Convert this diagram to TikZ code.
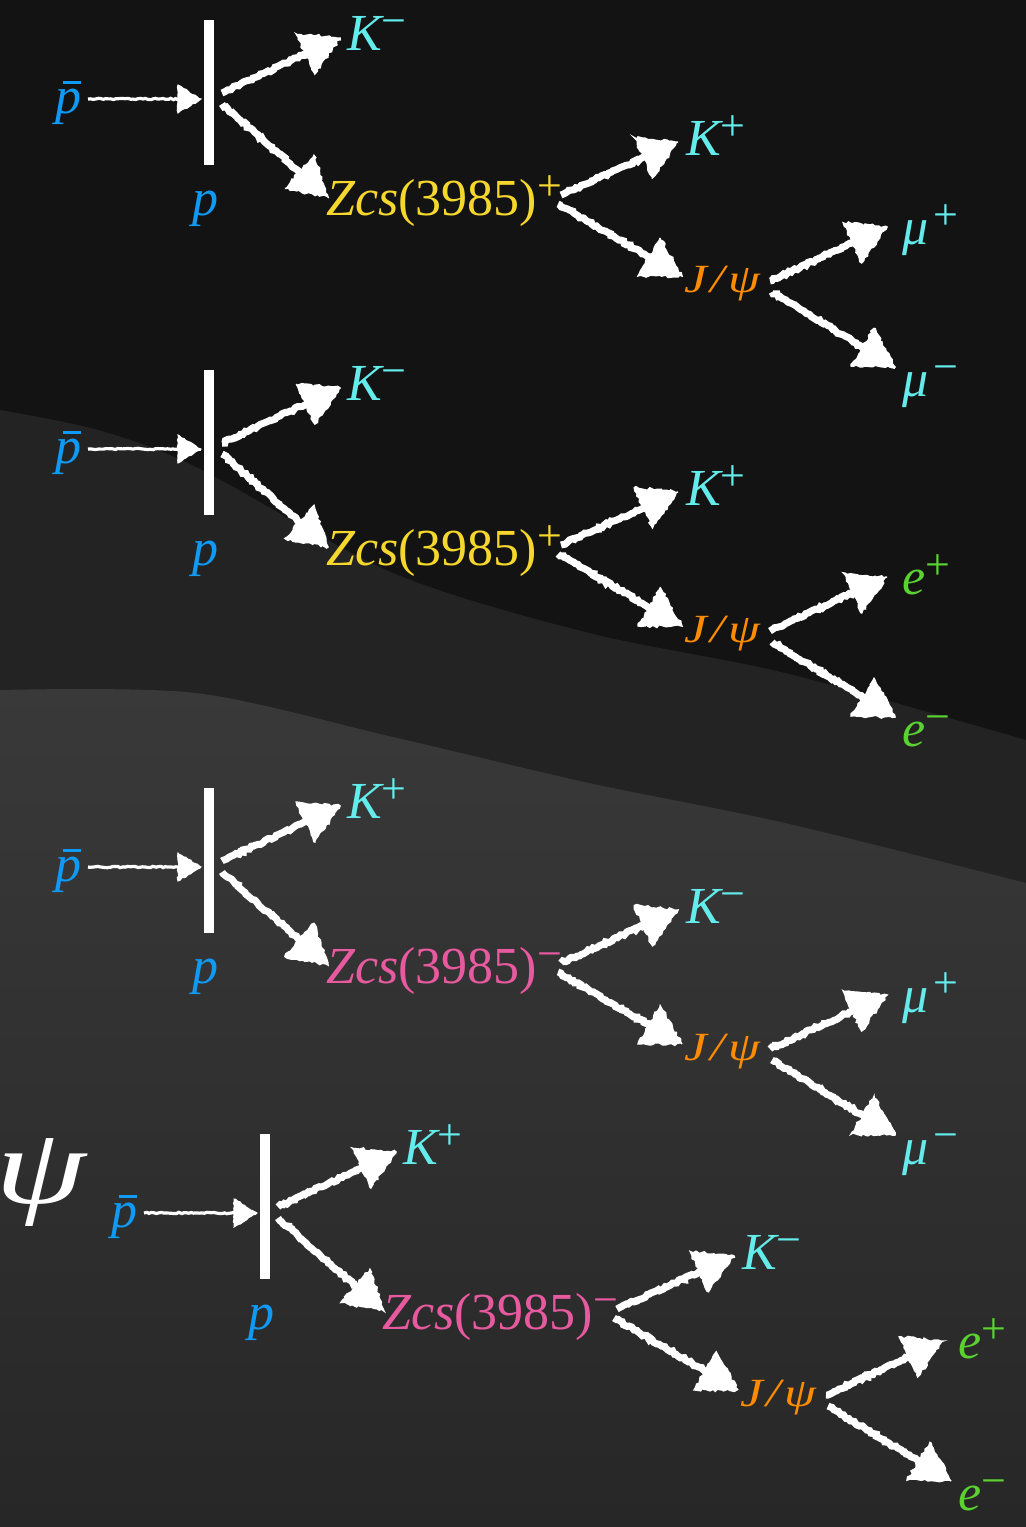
\documentclass[tikz,border=0pt]{standalone}
\usepackage{fontspec}
\setmainfont{Liberation Serif}
\usepackage{graphicx}
\usetikzlibrary{arrows.meta,decorations.pathmorphing,calc}
\definecolor{bgA}{HTML}{131313}
\definecolor{bgB}{HTML}{232323}
\definecolor{bgCtop}{HTML}{393939}
\definecolor{bgCbot}{HTML}{272727}
\definecolor{pblue}{RGB}{15,155,245}
\definecolor{kcyan}{RGB}{100,235,235}
\definecolor{zyellow}{RGB}{245,215,45}
\definecolor{zpink}{RGB}{232,90,160}
\definecolor{jorange}{RGB}{255,140,0}
\definecolor{egreen}{RGB}{90,210,50}
\newcommand\chg[1]{\raisebox{15pt}{\fontsize{44}{44}\selectfont\upshape #1}}
\newcommand\pbarsym{\makebox[0pt][l]{\kern8pt\raisebox{29pt}{\rule{18pt}{3pt}}}{\itshape p}}
\newcommand\jpsisym{{\fontsize{40}{40}\selectfont\itshape\scalebox{1.28}[1]{J\kern3pt/\kern3ptψ}}}
\tikzset{
  lbl/.style={anchor=base west, inner sep=0pt, font=\fontsize{52}{52}\selectfont},
  barbox/.style={fill=white, draw=none, minimum width=10pt, minimum height=145pt, inner sep=0pt},
  chalk/.style={draw=white, line width=7pt, decorate, decoration={random steps, segment length=2.5pt, amplitude=1.2pt}},
  chalkhead/.style={fill=white, draw=white, line width=1.5pt, decorate, decoration={random steps, segment length=3pt, amplitude=1.4pt}},
  thinchalk/.style={draw=white, line width=3.2pt, decorate, decoration={random steps, segment length=2.5pt, amplitude=0.7pt}},
  thinchalkhead/.style={fill=white, draw=white, line width=1pt, decorate, decoration={random steps, segment length=2.5pt, amplitude=0.8pt}},
}
% #1 start, #2 tip, #3 head length, #4 half width, #5 shaft style
\newcommand\headarrow[5]{%
  \draw[#5] (#1) -- ($(#2)!#3-6pt!(#1)$);
  \coordinate (hb) at ($(#2)!#3!(#1)$);
  \fill[#5head] (#2) -- ($(hb)!#4!90:(#2)$) -- ($(hb)!#4!-90:(#2)$) -- cycle;}
\newcommand\chalkarrow[2]{\headarrow{#1}{#2}{38pt}{22pt}{chalk}}
\newcommand\decaytree[9]{%
\begin{scope}[shift={(#2,#3)}]
  \node[lbl,text=pblue] (#1pb) at (55,113) {\pbarsym};
  \node[barbox] (#1bar) at (209,92.5) {};
  \node[lbl,text=pblue] (#1p) at (192,215) {\itshape p};
  \node[lbl,text=kcyan] (#1ka) at (347,50) {\itshape K\chg{#4}};
  \node[lbl,text=#5] (#1z) at (326,215) {{\itshape Zcs}(3985)\chg{#6}};
  \node[lbl,text=kcyan] (#1kb) at (686,155) {\itshape K\chg{#7}};
  \node[lbl,text=jorange] (#1j) at (684,292) {\jpsisym};
  \node[lbl,text=#9] (#1la) at (902,244) {{\itshape #8}\chg{+}};
  \node[lbl,text=#9] (#1lb) at (902,396) {{\itshape #8}\chg{−}};
  \coordinate (#1in) at (88,99);
  \coordinate (#1hit) at (201,99);
  \coordinate (#1va) at (222,93);
  \coordinate (#1vb) at (222,104);
  \coordinate (#1ta) at (340,38);
  \coordinate (#1tb) at (328,197);
  \coordinate (#1za) at (561,195);
  \coordinate (#1zb) at (558,204);
  \coordinate (#1tc) at (678,142);
  \coordinate (#1td) at (682,276);
  \coordinate (#1ja) at (770,281);
  \coordinate (#1jb) at (772,292);
  \coordinate (#1te) at (887,227);
  \coordinate (#1tf) at (895,367);
  \headarrow{#1in}{#1hit}{23pt}{14pt}{thinchalk}
  \chalkarrow{#1va}{#1ta}
  \chalkarrow{#1vb}{#1tb}
  \chalkarrow{#1za}{#1tc}
  \chalkarrow{#1zb}{#1td}
  \chalkarrow{#1ja}{#1te}
  \chalkarrow{#1jb}{#1tf}
\end{scope}}
\begin{document}
\begin{tikzpicture}[x=1pt,y=-1pt]
  \useasboundingbox (0,0) rectangle (1026,1527);
  \clip (0,0) rectangle (1026,1527);
  \fill[bgA] (0,0) rectangle (1026,1527);
  \fill[bgB] plot[smooth] coordinates {(0,410) (98,430) (196,467) (393,573) (589,633) (785,673) (1026,740)} -- (1026,1527) -- (0,1527) -- cycle;
  \shade[top color=bgCtop, bottom color=bgCbot] plot[smooth] coordinates {(0,690) (196,693) (393,737) (589,783) (785,823) (1026,883)} -- (1026,1527) -- (0,1527) -- cycle;
  \node[anchor=base east, inner sep=0pt, text=white, font=\fontsize{108}{108}\selectfont\itshape] (bigpsi) at (86,1203) {\scalebox{1.35}[1]{ψ}};
  \pgfmathsetseed{7}
  \decaytree{a}{0}{0}{−}{zyellow}{+}{+}{μ\kern5pt}{kcyan}
  \decaytree{b}{0}{350}{−}{zyellow}{+}{+}{e}{egreen}
  \decaytree{c}{0}{768}{+}{zpink}{−}{−}{μ\kern5pt}{kcyan}
  \decaytree{d}{56}{1114}{+}{zpink}{−}{−}{e}{egreen}
\end{tikzpicture}
\end{document}
